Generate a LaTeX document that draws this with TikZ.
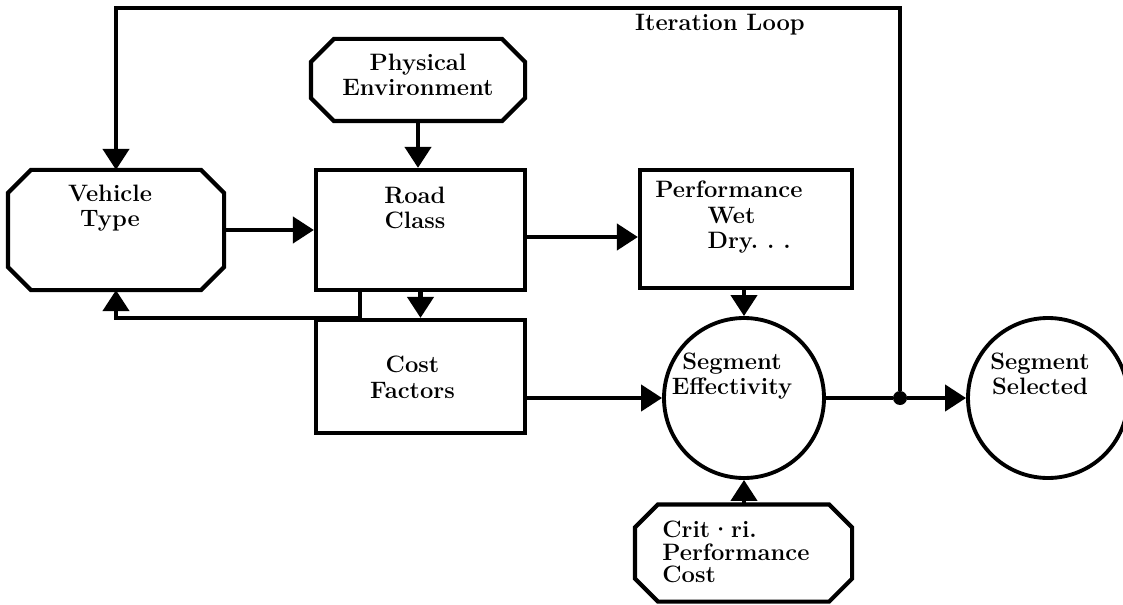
\documentclass[tikz,border=0pt]{standalone}
\usetikzlibrary{arrows.meta}
% contorno ottagonale attorno a un nodo
\newcommand{\octline}[1]{\draw[line width=2.4pt] ([xshift=0.46cm]#1.north west) -- ([xshift=-0.46cm]#1.north east) -- ([yshift=-0.46cm]#1.north east) -- ([yshift=0.46cm]#1.south east) -- ([xshift=-0.46cm]#1.south east) -- ([xshift=0.46cm]#1.south west) -- ([yshift=0.46cm]#1.south west) -- ([yshift=-0.46cm]#1.north west) -- cycle;}
\begin{document}
\begin{tikzpicture}[
    blk/.style={line width=2.4pt, rectangle, inner sep=0, minimum width=4.2cm},
    octbox/.style={blk, draw=none},
    rectbox/.style={blk, draw},
    disc/.style={draw, line width=2.2pt, circle, minimum size=3.2cm},
    txt/.style={font=\fontsize{13.5}{14.5}\selectfont\bfseries, align=center, inner sep=0},
    flow/.style={line width=2.4pt, -{Triangle[length=0.42cm,width=0.52cm]}}]
            \useasboundingbox (0,0) rectangle (22.46,-12.1);

            % Blocchi
            \node (veh) at (2.32,-4.6) [octbox, minimum width=4.24cm, minimum height=2.32cm] {};
            \node (phys) at (8.36,-1.6) [octbox, minimum height=1.56cm] {};
            \node (road) at (8.41,-4.6) [rectbox, minimum width=4.18cm, minimum height=2.4cm] {};
            \node (perf) at (14.92,-4.58) [rectbox, minimum width=4.24cm, minimum height=2.36cm] {};
            \node (cost) at (8.41,-7.53) [rectbox, minimum width=4.18cm, minimum height=2.26cm] {};
            \node (crit) at (14.87,-11.06) [octbox, minimum width=4.26cm, minimum height=1.86cm] {};
            \octline{veh}
            \octline{phys}
            \octline{crit}

            % Cerchi
            \node (eff) at (14.88,-7.96) [disc] {};
            \node (sel) at (20.96,-7.96) [disc] {};

            % Testi
            \node (vehT) at (2.2,-4.16) [txt] {Vehicle\\Type};
            \node (physT) at (8.36,-1.5) [txt] {Physical\\Environment};
            \node (roadT) at (8.3,-4.16) [txt] {Road\\Class};
            \node (perfT) at (13.1,-3.62) [txt, anchor=north west, align=left] {Performance\\\hspace{2.2em}Wet\\\hspace{2.2em}Dry.\ .\ .};
            \node (costT) at (8.25,-7.55) [txt] {Cost\\Factors};
            \node (effT) at (14.64,-7.52) [txt] {Segment\\Effectivity};
            \node (selT) at (20.8,-7.48) [txt] {Segment\\Selected};
            \node (critT) at (13.24,-10.42) [txt, anchor=north west, align=left, font=\fontsize{13.5}{12.8}\selectfont\bfseries] {Crit·ri.\\Performance\\Cost};
            \node (loopT) at (14.4,-0.5) [txt] {Iteration Loop};

            % Collegamenti
            \coordinate (top) at (18,-0.16);
            \coordinate (fb) at (7.2,-6.36);
            \node (jn) at (18,-7.96) [circle, fill, inner sep=0, minimum size=0.28cm] {};

            \draw[flow] (veh) -- (road);
            \draw[flow] (phys.south) -- (phys.south |- road.north);
            \draw[flow] ([yshift=-0.14cm]road.east) -- ([yshift=-0.14cm]road.east -| perf.west);
            \draw[flow] (cost.north |- road.south) -- (cost.north);
            \draw[flow] (fb |- road.south) -- (fb) -| (veh.south);
            \draw[flow] (eff.north |- perf.south) -- (eff.north);
            \draw[flow] (cost.east |- eff) -- (eff);
            \draw[flow] (eff.south |- crit.north) -- (eff.south);
            \draw[line width=2.4pt] (eff) -- (jn);
            \draw[flow] (jn) -- (sel);
            \draw[flow] (jn) -- (top) -| (veh.north);
        \end{tikzpicture}
\end{document}
